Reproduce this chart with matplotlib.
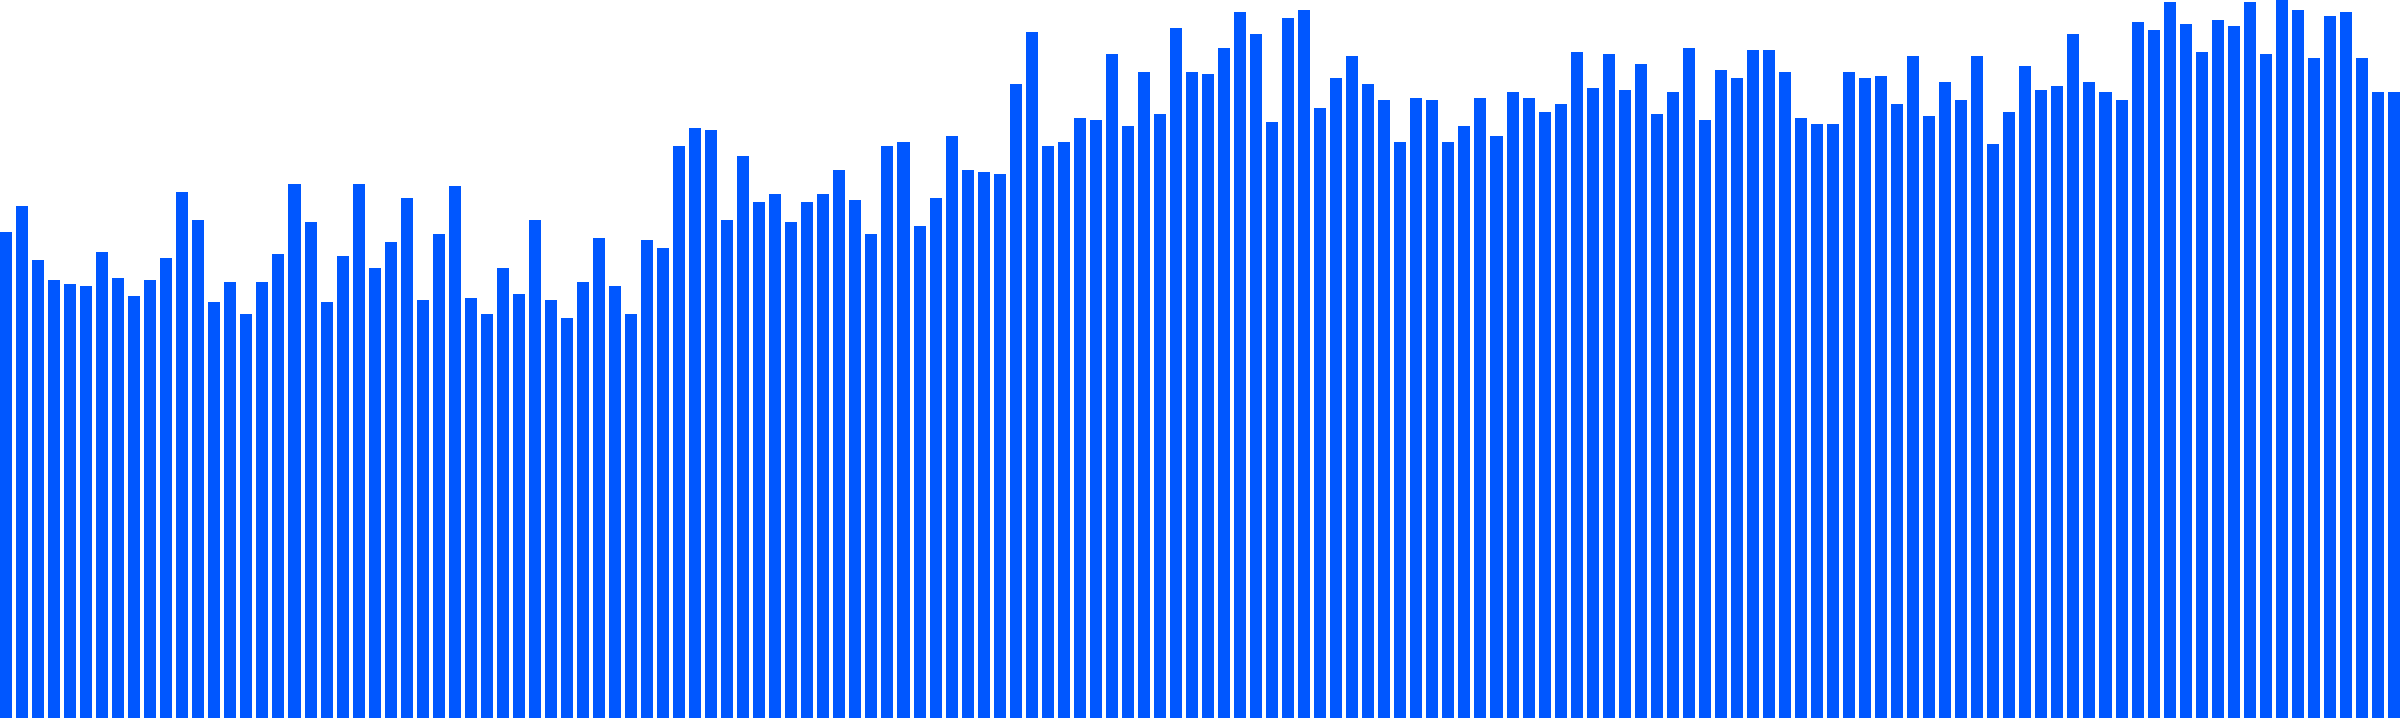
import numpy as np
import matplotlib.pyplot as plt

# bar heights (pixel units, axis 0..718)
heights = [
    486, 512, 458, 438, 434, 432, 466, 440, 422, 438, 460, 526, 498, 416, 436, 404, 436, 464, 534, 496, 416, 462, 534, 450, 476,
    520, 418, 484, 532, 420, 404, 450, 424, 498, 418, 400, 436, 480, 432, 404, 478, 470, 572, 590, 588, 498, 562, 516, 524, 496,
    516, 524, 548, 518, 484, 572, 576, 492, 520, 582, 548, 546, 544, 634, 686, 572, 576, 600, 598, 664, 592, 646, 604, 690, 646,
    644, 670, 706, 684, 596, 700, 708, 610, 640, 662, 634, 618, 576, 620, 618, 576, 592, 620, 582, 626, 620, 606, 614, 666, 630,
    664, 628, 654, 604, 626, 670, 598, 648, 640, 668, 668, 646, 600, 594, 594, 646, 640, 642, 614, 662, 602, 636, 618, 662, 574,
    606, 652, 628, 632, 684, 636, 626, 618, 696, 688, 716, 694, 666, 698, 692, 716, 664, 718, 708, 660, 702, 706, 660, 626, 626,
]
x = np.arange(len(heights))

fig = plt.figure(figsize=(24, 7.18), dpi=100)
ax = fig.add_axes([0, 0, 1, 1])
ax.bar(x, heights, width=0.75, color='#0057ff', linewidth=0)
ax.set_xlim(-0.375, len(heights) - 1 + 0.375)
ax.set_ylim(0, 718)
ax.axis('off')
fig.savefig('out.png', dpi=100, facecolor='white')
